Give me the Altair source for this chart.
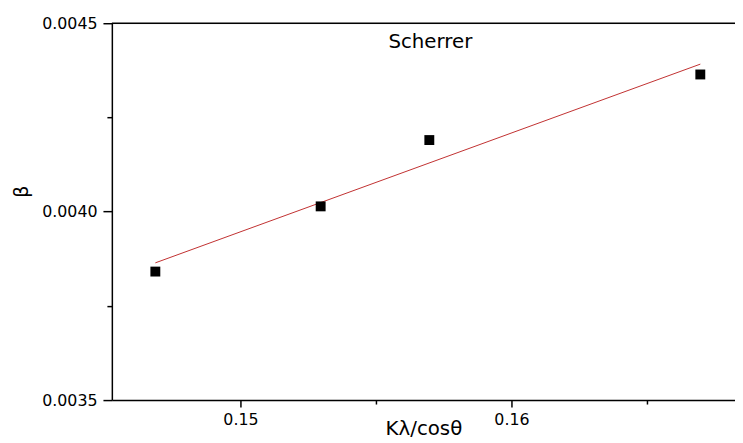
import altair as alt
import pandas as pd

# Data
k_lambda_cos = [0.14686, 0.15296, 0.15697, 0.16697]
beta = [0.003841, 0.004014, 0.004190, 0.004364]
x_ticks = [0.15, 0.155, 0.16, 0.165]
y_ticks = [0.0035, 0.00375, 0.004, 0.00425, 0.0045]
x_domain = [0.145255, 0.16825]
y_domain = [0.0035, 0.0045]
annotation = ["Scherrer"]

df = pd.DataFrame({"x": k_lambda_cos, "y": beta})
top_df = pd.DataFrame({"y": [y_domain[1]]})
ann_df = pd.DataFrame({"label": annotation})

FONT = "DejaVu Sans"

x_major = "abs(datum.value*100 - round(datum.value*100)) < 0.01"
y_major = "abs(datum.value*2000 - round(datum.value*2000)) < 0.01"

x_axis = alt.Axis(
    title="Kλ/cosθ", values=x_ticks, format=".2f",
    labelExpr=x_major + " ? datum.label : ''",
    tickSize={"condition": {"test": x_major, "value": 7}, "value": 4},
    grid=False, domainColor="black", domainWidth=1.5,
    tickColor="black", tickWidth=1.5, labelColor="black",
    labelFont=FONT, labelFontSize=16, labelPadding=5,
    titleFont=FONT, titleFontSize=20, titleFontWeight="normal", titleColor="black",
    titleBaseline="middle", titleY=29,
)
y_axis = alt.Axis(
    title="β", values=y_ticks, format=".4f",
    labelExpr=y_major + " ? datum.label : ''",
    tickSize={"condition": {"test": y_major, "value": 9}, "value": 5},
    grid=False, domainColor="black", domainWidth=1.5,
    tickColor="black", tickWidth=1.5, labelColor="black",
    labelFont=FONT, labelFontSize=16, labelPadding=6,
    titleFont=FONT, titleFontSize=19, titleFontWeight="normal", titleColor="black",
    titleBaseline="middle", titleAlign="center", titleX=-91, titleY=170,
)

x_enc = alt.X("x:Q", scale=alt.Scale(domain=x_domain, nice=False, zero=False), axis=x_axis)
y_enc = alt.Y("y:Q", scale=alt.Scale(domain=y_domain, nice=False, zero=False), axis=y_axis)

top_rule = alt.Chart(top_df).mark_rule(color="black", strokeWidth=1.5).encode(y=y_enc)

fit = alt.Chart(df).transform_regression("x", "y").mark_line(
    color="#c03030", strokeWidth=1
).encode(x=x_enc, y=y_enc)

points = alt.Chart(df).mark_square(size=100, color="black", opacity=1).encode(x=x_enc, y=y_enc)

label = alt.Chart(ann_df).mark_text(
    font=FONT, fontSize=20, color="black", baseline="middle", align="center"
).encode(text="label:N", x=alt.value(322), y=alt.value(19))

chart = alt.layer(top_rule, fit, points, label).properties(
    width=630, height=381,
    autosize=alt.AutoSizeParams(type="none"),
    padding={"left": 105, "top": 13, "right": 0, "bottom": 41},
).configure_view(stroke=None).configure(background="white")

chart.save("out.html", embed_options={"renderer": "svg", "actions": False})
